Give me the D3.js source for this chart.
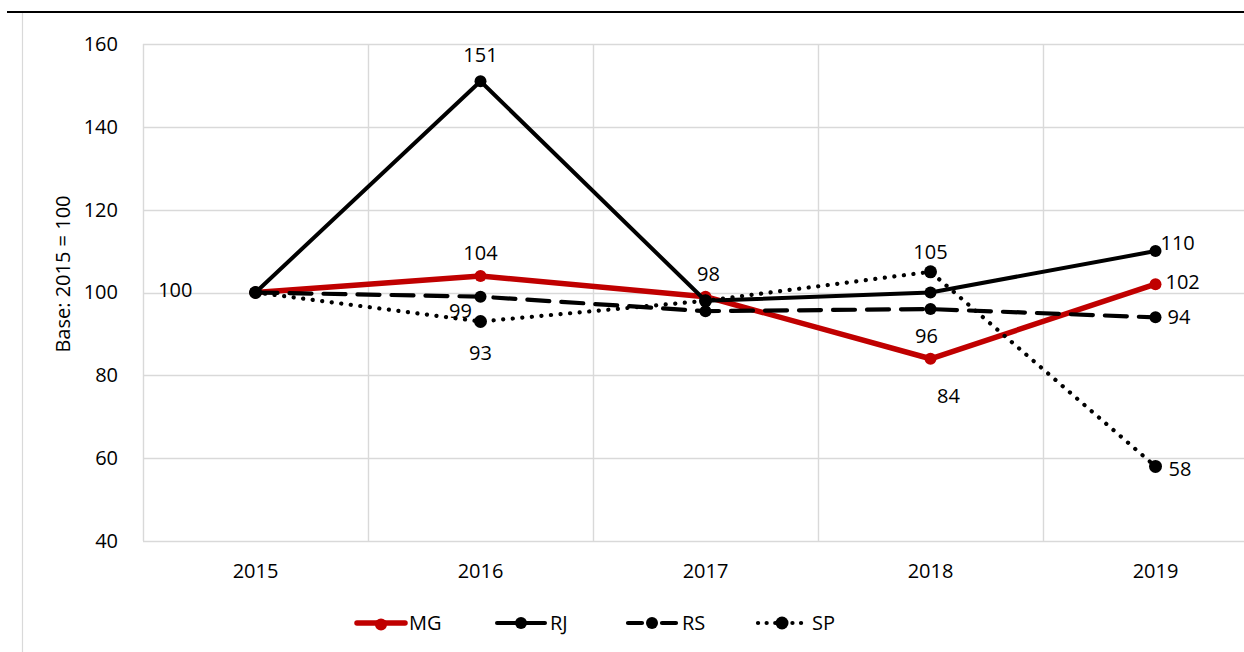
<!DOCTYPE html>
<html>
<head>
<meta charset="utf-8">
<script src="https://cdn.jsdelivr.net/npm/d3@7"></script>
<style>
  html, body { margin: 0; padding: 0; background: #fff; }
  svg { display: block; font-family: "Open Sans", "Noto Sans", sans-serif; }
</style>
</head>
<body>
<svg id="chart" width="1244" height="652"></svg>
<script>
// Index values, base year 2015 = 100
const years = ["2015", "2016", "2017", "2018", "2019"];
const yTicks = [40, 60, 80, 100, 120, 140, 160];
const seriesNames = ["MG", "RJ", "RS", "SP"];
const mgValues = [100, 104, 99, 84, 102];
const rjValues = [100, 151, 98, 100, 110];
const rsValues = [100, 99, 95.5, 96, 94];
const spValues = [100, 93, 98, 105, 58];
// Data label text per point (null = no label shown)
const mgLabels = [null, "104", null, "84", "102"];
const rjLabels = [null, "151", "98", null, "110"];
const rsLabels = [null, "99", null, "96", "94"];
const spLabels = ["100", "93", null, "105", "58"];

const svg = d3.select("#chart");
const W = 1244, H = 652;
const plot = { left: 143, top: 44, bottom: 541, right: 1268 };
const grid = "#d9d9d9";
const FS = 20;

// line styles for each series
const styles = {
  MG: { color: "#c00000", width: 5.5, dash: null, cap: "round", r: 6 },
  RJ: { color: "#000", width: 4, dash: null, cap: "round", r: 6 },
  RS: { color: "#000", width: 4.2, dash: "22,12", cap: "round", r: 6 },
  SP: { color: "#000", width: 4.2, dash: "0.1,9.5", cap: "round", r: 6.5 }
};

// label placement (dx, dy from the point; anchor)
const labelPlacement = {
  MG: [null, [0, -23, "middle"], null, [18, 37, "middle"], [10, -2, "start"]],
  RJ: [null, [0, -26, "middle"], [3, -27, "middle"], null, [5, -8, "start"]],
  RS: [null, [-20, 14, "middle"], null, [-4, 27, "middle"], [12, 0, "start"]],
  SP: [[-63, -3, "end"], [0, 32, "middle"], null, [0, -20, "middle"], [13, 3, "start"]]
};

const x = d3.scaleBand().domain(years).range([plot.left, plot.right]).padding(0);
const cx = d => x(d) + x.bandwidth() / 2;
const y = d3.scaleLinear().domain([40, 160]).range([plot.bottom, plot.top]);

// outer frame: top rule and left rule
svg.append("line").attr("x1", 7).attr("x2", W).attr("y1", 12).attr("y2", 12)
  .attr("stroke", "#000").attr("stroke-width", 2.2);
svg.append("line").attr("x1", 22.5).attr("x2", 22.5).attr("y1", 13).attr("y2", H)
  .attr("stroke", grid).attr("stroke-width", 1.2);

// horizontal gridlines
svg.append("g").selectAll("line").data(yTicks).join("line")
  .attr("x1", plot.left).attr("x2", W)
  .attr("y1", d => Math.round(y(d)) + 0.5).attr("y2", d => Math.round(y(d)) + 0.5)
  .attr("stroke", grid).attr("stroke-width", 1.4);

// vertical gridlines at category boundaries
svg.append("g").selectAll("line").data(years).join("line")
  .attr("x1", d => Math.round(x(d)) + 0.5).attr("x2", d => Math.round(x(d)) + 0.5)
  .attr("y1", plot.top).attr("y2", plot.bottom)
  .attr("stroke", grid).attr("stroke-width", 1.4);

// y axis tick labels
const yAxis = d3.axisLeft(y).tickValues(yTicks).tickSize(0).tickPadding(25);
const gy = svg.append("g").attr("transform", `translate(${plot.left},0)`).call(yAxis);
gy.select(".domain").remove();
gy.attr("font-size", FS).attr("font-family", null);
gy.selectAll("text").attr("fill", "#000");

// x axis tick labels
const xAxis = d3.axisBottom(x).tickSize(0).tickPadding(23);
const gx = svg.append("g").attr("transform", `translate(0,${plot.bottom})`).call(xAxis);
gx.select(".domain").remove();
gx.attr("font-size", FS).attr("font-family", null);
gx.selectAll("text").attr("fill", "#000");

// y axis title
svg.append("text")
  .attr("transform", "translate(70,274) rotate(-90)")
  .attr("text-anchor", "middle")
  .attr("font-size", 20).attr("fill", "#000")
  .text("Base: 2015 = 100");

const series = [
  { name: "MG", values: mgValues, labels: mgLabels },
  { name: "RJ", values: rjValues, labels: rjLabels },
  { name: "RS", values: rsValues, labels: rsLabels },
  { name: "SP", values: spValues, labels: spLabels }
];

const line = d3.line().x((d, i) => cx(years[i])).y(d => y(d));

series.forEach(s => {
  const st = styles[s.name];
  const g = svg.append("g");
  g.append("path").datum(s.values)
    .attr("d", line).attr("fill", "none")
    .attr("stroke", st.color).attr("stroke-width", st.width)
    .attr("stroke-linecap", st.cap).attr("stroke-linejoin", "round")
    .attr("stroke-dasharray", st.dash);
  g.selectAll("circle").data(s.values).join("circle")
    .attr("cx", (d, i) => cx(years[i])).attr("cy", d => y(d))
    .attr("r", st.r).attr("fill", st.color);
});

// data labels drawn above all lines
series.forEach(s => {
  s.labels.forEach((lab, i) => {
    const p = labelPlacement[s.name][i];
    if (lab == null || !p) return;
    svg.append("text")
      .attr("x", cx(years[i]) + p[0]).attr("y", y(s.values[i]) + p[1])
      .attr("dy", "0.35em").attr("text-anchor", p[2])
      .attr("font-size", FS).attr("fill", "#000")
      .text(lab);
  });
});

// legend
const legendItems = [
  { name: "MG", x: 357 },
  { name: "RJ", x: 497 },
  { name: "RS", x: 628 },
  { name: "SP", x: 758 }
];
const ly = 623;
legendItems.forEach(it => {
  const st = styles[it.name];
  const g = svg.append("g");
  g.append("line").attr("x1", it.x).attr("x2", it.x + 48).attr("y1", ly).attr("y2", ly)
    .attr("stroke", st.color).attr("stroke-width", st.width)
    .attr("stroke-linecap", st.cap)
    .attr("stroke-dasharray", it.name === "RS" ? "14,20" : (it.name === "SP" ? "0.1,8.5" : null));
  g.append("circle").attr("cx", it.x + 24).attr("cy", ly + (it.name === "MG" ? 1.5 : 0))
    .attr("r", st.r).attr("fill", st.color);
  g.append("text").attr("x", it.x + (it.name === "MG" ? 52 : it.name === "RJ" ? 53 : 54)).attr("y", ly)
    .attr("dy", "0.35em").attr("font-size", FS).attr("fill", "#000").text(it.name);
});
</script>
</body>
</html>
